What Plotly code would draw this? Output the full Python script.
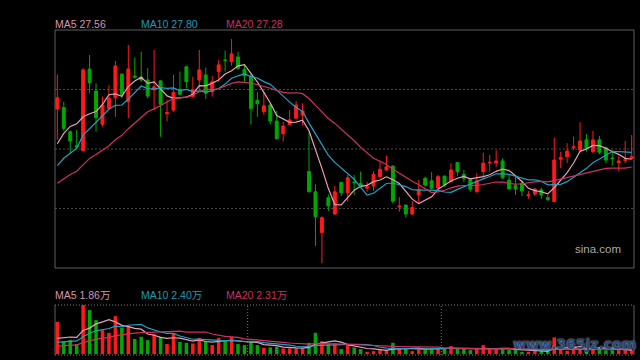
import numpy as np
import plotly.graph_objects as go

# ---------------- data ----------------
# 19 sessions before the visible window (only used for the moving averages)
history_close = [25.18, 25.40, 25.68, 25.82, 26.11, 26.25, 26.39, 26.54, 26.64, 26.75,
                 26.04, 26.43, 26.22, 26.00, 28.07, 26.82, 26.96, 27.53, 29.49]
history_volume = [1.6, 1.7, 1.8, 1.9, 2.0, 2.0, 2.1, 2.2, 2.3, 2.4,
                  3.2, 3.5, 3.8, 4.0, 4.0, 4.5, 5.0, 5.5, 7.0]

open_ = [29.35, 29.40, 28.54, 28.04, 27.86, 30.77, 29.99, 28.81, 29.37, 29.75,
         30.59, 29.61, 30.52, 30.49, 30.38, 30.03, 30.35, 29.18, 29.31, 30.05,
         30.85, 29.79, 30.38, 30.56, 29.96, 30.68, 31.09, 31.03, 31.20, 30.76,
         30.50, 29.66, 29.25, 29.49, 28.92, 28.47, 28.80, 29.02, 29.13, 27.12,
         26.40, 24.95, 26.19, 25.61, 26.73, 26.37, 26.74, 26.70, 26.53, 26.61,
         26.94, 27.18, 27.32, 25.86, 25.93, 25.61, 26.29, 26.88, 26.79, 26.53,
         26.96, 26.76, 27.44, 27.02, 26.86, 26.40, 27.12, 27.43, 27.43, 27.50,
         26.82, 26.62, 26.70, 26.26, 26.32, 26.47, 26.19, 26.05, 27.56, 27.65,
         27.97, 27.89, 28.25, 27.83, 28.25, 27.97, 27.60, 27.44, 27.52, 27.59]
high = [30.58, 29.61, 28.58, 28.60, 30.80, 31.27, 30.26, 29.79, 30.20, 31.06,
        30.62, 31.63, 31.18, 31.39, 30.80, 31.45, 30.36, 29.67, 30.56, 30.68,
        30.89, 30.50, 31.45, 30.82, 30.52, 31.09, 31.43, 31.84, 31.39, 30.94,
        30.62, 29.96, 29.96, 29.56, 29.28, 28.89, 29.31, 29.63, 29.55, 28.51,
        26.67, 25.52, 26.31, 26.61, 26.76, 27.00, 27.00, 27.12, 26.76, 27.14,
        27.47, 27.69, 27.33, 26.21, 25.94, 26.07, 26.82, 26.94, 27.10, 27.00,
        26.97, 27.42, 27.45, 27.18, 26.87, 27.06, 27.79, 27.71, 27.88, 27.59,
        27.00, 26.94, 26.82, 26.43, 26.55, 26.55, 26.29, 28.33, 27.83, 28.13,
        28.36, 28.88, 28.45, 28.57, 28.39, 28.01, 27.89, 27.69, 28.21, 28.42]
low = [28.25, 28.57, 27.77, 27.99, 27.84, 29.91, 28.54, 28.72, 29.33, 29.07,
       29.73, 29.02, 30.44, 30.31, 29.73, 29.31, 28.36, 28.92, 29.25, 29.85,
       30.09, 29.75, 30.03, 29.71, 29.79, 30.32, 30.68, 30.89, 30.74, 30.32,
       28.80, 29.07, 29.14, 28.80, 28.28, 28.19, 28.78, 28.99, 28.78, 26.39,
       24.47, 23.86, 25.72, 25.59, 26.25, 26.05, 26.29, 26.53, 26.40, 26.43,
       26.88, 27.14, 25.98, 25.69, 25.48, 25.58, 25.99, 26.58, 26.47, 26.50,
       26.58, 26.73, 26.97, 26.74, 26.40, 26.38, 26.88, 27.12, 27.29, 26.86,
       26.49, 26.29, 26.25, 26.15, 26.25, 26.15, 26.08, 26.04, 27.24, 27.42,
       27.89, 27.83, 27.83, 27.77, 27.74, 27.42, 27.33, 27.14, 27.42, 27.57]
close = [29.75, 28.66, 28.21, 28.00, 30.74, 30.29, 29.04, 29.49, 29.73, 30.88,
         29.87, 30.77, 30.48, 30.38, 29.81, 30.14, 29.52, 29.22, 29.94, 29.87,
         30.32, 30.03, 30.74, 29.91, 30.32, 30.92, 31.08, 31.31, 30.80, 30.53,
         29.37, 29.54, 29.46, 28.92, 28.29, 28.74, 28.96, 29.49, 29.28, 26.40,
         25.52, 25.48, 25.90, 26.40, 26.37, 26.90, 26.73, 26.58, 26.58, 27.02,
         27.20, 27.29, 26.07, 25.89, 25.61, 25.84, 26.49, 26.64, 26.53, 26.94,
         26.64, 27.18, 27.12, 26.88, 26.49, 26.79, 27.42, 27.45, 27.50, 26.90,
         26.50, 26.50, 26.43, 26.29, 26.50, 26.29, 26.12, 27.53, 27.62, 27.85,
         28.00, 28.21, 27.95, 28.25, 27.81, 27.53, 27.58, 27.50, 27.54, 27.65]
# volume in 万 (10k shares)
volume = [15.5, 6.2, 6.7, 4.8, 23.5, 21.1, 16.3, 11.5, 10.2, 18.2,
          12.6, 13.4, 7.2, 8.3, 6.7, 9.5, 8.3, 4.8, 9.9, 5.9,
          5.4, 5.1, 7.8, 5.9, 4.3, 7.8, 6.2, 8.3, 4.8, 4.3,
          6.2, 4.3, 3.0, 3.2, 3.5, 2.7, 2.7, 2.7, 2.7, 5.4,
          10.2, 6.2, 4.8, 5.1, 2.4, 4.3, 3.2, 2.4, 1.1, 1.4,
          1.9, 1.9, 5.4, 2.4, 2.7, 1.4, 2.7, 2.7, 2.7, 2.4,
          2.4, 3.8, 2.4, 2.4, 1.9, 2.4, 4.3, 2.4, 2.4, 2.4,
          2.0, 2.0, 1.1, 1.1, 1.5, 1.8, 1.1, 8.0, 2.0, 1.6,
          2.9, 3.2, 2.6, 3.0, 3.0, 1.8, 1.9, 1.9, 1.8, 1.9]
month_starts = [30, 60]          # first session of a new month
ma_periods = [5, 10, 20]

# ---------------- style ----------------
RED = "#ff1a1a"
GREEN = "#00a800"
MA_LINE = {5: "#eaa0bb", 10: "#1fa0c6", 20: "#d2305f"}
MA_TEXT = {5: "#dc93ad", 10: "#1c9aba", 20: "#cf2d5f"}
BG = "#000000"
BORDER = "#5e5e5e"
GRID = "#4a4a4a"
FONT = "Liberation Sans, Arial, sans-serif"

n = len(close)
x = list(range(n))


def moving_average(history, values, p):
    arr = np.array(history + values, dtype=float)
    return np.convolve(arr, np.ones(p) / p, mode="valid")[-len(values):]


price_ma = {p: moving_average(history_close, close, p) for p in ma_periods}
vol_ma = {p: moving_average(history_volume, volume, p) for p in ma_periods}

fig = go.Figure()

fig.add_trace(go.Candlestick(
    x=x, open=open_, high=high, low=low, close=close,
    increasing=dict(line=dict(color=RED, width=1), fillcolor=RED),
    decreasing=dict(line=dict(color=GREEN, width=1), fillcolor=GREEN),
    whiskerwidth=0, showlegend=False, hoverinfo="skip",
    xaxis="x", yaxis="y"))

for p in ma_periods:
    fig.add_trace(go.Scatter(x=x, y=price_ma[p], mode="lines",
                             line=dict(color=MA_LINE[p], width=1.2),
                             showlegend=False, hoverinfo="skip",
                             xaxis="x", yaxis="y"))

vol_colors = [RED if c >= o else GREEN for o, c in zip(open_, close)]
fig.add_trace(go.Bar(x=x, y=volume, marker=dict(color=vol_colors, line=dict(width=0)),
                     width=0.55, showlegend=False, hoverinfo="skip",
                     xaxis="x2", yaxis="y2"))
for p in ma_periods:
    fig.add_trace(go.Scatter(x=x, y=vol_ma[p], mode="lines",
                             line=dict(color=MA_LINE[p], width=1.2),
                             showlegend=False, hoverinfo="skip",
                             xaxis="x2", yaxis="y2"))

W, H = 640, 360
ml, mr, mt, mb = 55, 6, 30, 5
plot_h = H - mt - mb
plot_w = W - ml - mr
main_bottom = (H - mb - 268) / plot_h
vol_top = (H - mb - 305) / plot_h

ax = dict(showticklabels=False, showgrid=False, zeroline=False, showline=False,
          ticks="", fixedrange=True)
fig.update_layout(
    width=W, height=H,
    margin=dict(l=ml, r=mr, t=mt, b=mb),
    paper_bgcolor=BG, plot_bgcolor=BG,
    boxgap=0.35,
    xaxis=dict(ax, domain=[0, 1], range=[-0.36, n - 1 + 0.36], anchor="y",
               rangeslider=dict(visible=False)),
    xaxis2=dict(ax, domain=[0, 1], range=[-0.36, n - 1 + 0.36], anchor="y2"),
    yaxis=dict(ax, domain=[main_bottom, 1], range=[23.688, 32.161]),
    yaxis2=dict(ax, domain=[0, vol_top], range=[-0.45, 23.55]),
    showlegend=False,
    font=dict(family=FONT),
)

shapes = []
# main panel grid (quarters) and border
for f in (0.25, 0.5, 0.75):
    shapes.append(dict(type="line", xref="x domain", yref="y domain", x0=0, x1=1, y0=f, y1=f,
                       line=dict(color=GRID, width=1, dash="2px,2px"), layer="below"))
shapes.append(dict(type="rect", xref="x domain", yref="y domain", x0=0, x1=1, y0=0, y1=1,
                   line=dict(color=BORDER, width=1)))
# volume panel frame
shapes.append(dict(type="line", xref="x2 domain", yref="y2 domain", x0=0, x1=0, y0=0, y1=1,
                   line=dict(color=BORDER, width=1)))
shapes.append(dict(type="line", xref="x2 domain", yref="y2 domain", x0=1, x1=1, y0=0, y1=1,
                   line=dict(color=BORDER, width=1)))
for f in (0, 1):
    shapes.append(dict(type="line", xref="x2 domain", yref="y2 domain", x0=0, x1=1, y0=f, y1=f,
                       line=dict(color="#7a7a7a", width=1, dash="1px,2px")))
for m in month_starts:
    shapes.append(dict(type="line", xref="x2", yref="y2 domain", x0=m - 0.5, x1=m - 0.5,
                       y0=0, y1=1, line=dict(color="#7a7a7a", width=1, dash="1px,2px"),
                       layer="below"))
fig.update_layout(shapes=shapes)

ann = []
label_x = {5: (53 - ml) / plot_w, 10: (138.5 - ml) / plot_w, 20: (223.5 - ml) / plot_w}
y_main_lbl = (H - mb - 24) / plot_h
y_vol_lbl = (H - mb - 295) / plot_h
for p in ma_periods:
    ann.append(dict(xref="paper", yref="paper", x=label_x[p], y=y_main_lbl,
                    xanchor="left", yanchor="middle", showarrow=False,
                    text=f"MA{p} {price_ma[p][-1]:.2f}",
                    font=dict(family=FONT, size=10.5, color=MA_TEXT[p])))
    ann.append(dict(xref="paper", yref="paper", x=label_x[p], y=y_vol_lbl,
                    xanchor="left", yanchor="middle", showarrow=False,
                    text=f"MA{p} {vol_ma[p][-1]:.2f}万",
                    font=dict(family=FONT + ", Noto Sans CJK SC", size=10.5, color=MA_TEXT[p])))
ann.append(dict(xref="paper", yref="paper", x=(623 - ml) / plot_w, y=(H - mb - 249) / plot_h,
                xanchor="right", yanchor="middle", showarrow=False, text="sina.com",
                font=dict(family=FONT, size=11.5, color="#a8a8a8")))
ann.append(dict(xref="paper", yref="paper", x=(574 - ml) / plot_w, y=(H - mb - 344) / plot_h,
                xanchor="center", yanchor="middle", showarrow=False, text="<b>www.365jz.com</b>",
                font=dict(family="DejaVu Sans, sans-serif", size=14, color="#24477f",
                          shadow="0px 0px 2px #c8c8c8")))
fig.update_layout(annotations=ann)

fig.write_html("out.html", config={"displayModeBar": False},
               post_script="document.body.style.margin='0';document.body.style.overflow='hidden';"
                           "document.body.style.background='#000';")
